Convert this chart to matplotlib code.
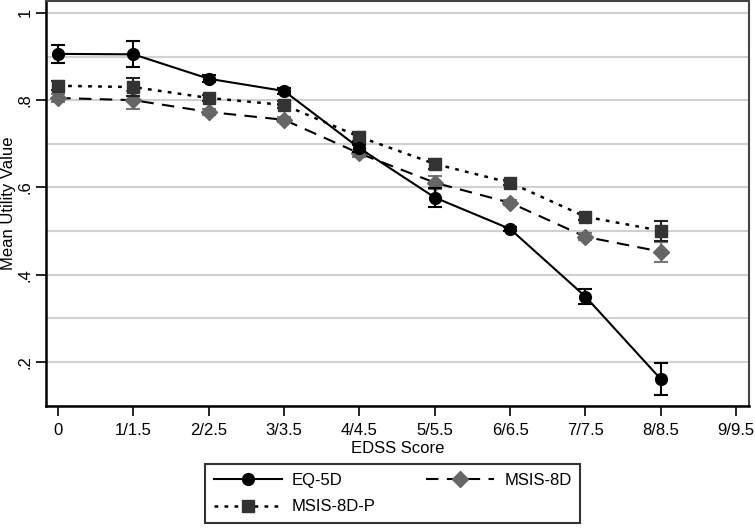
import numpy as np
import matplotlib.pyplot as plt
from matplotlib.ticker import MultipleLocator

plt.rcParams['font.family'] = ['Liberation Sans', 'DejaVu Sans']

# EDSS categories
edss = ['0', '1/1.5', '2/2.5', '3/3.5', '4/4.5', '5/5.5', '6/6.5', '7/7.5', '8/8.5', '9/9.5']

# mean utility values (no value at 9/9.5)
eq5d = [0.906, 0.905, 0.849, 0.821, 0.690, 0.577, 0.505, 0.350, 0.161]
eq5d_err = [0.020, 0.030, 0.008, 0.006, 0.008, 0.022, 0.005, 0.017, 0.036]

msis8d = [0.805, 0.800, 0.773, 0.755, 0.678, 0.611, 0.565, 0.487, 0.453]
msis8d_err = [0.010, 0.020, 0.006, 0.006, 0.008, 0.015, 0.006, 0.008, 0.023]

msis8dp = [0.833, 0.830, 0.805, 0.789, 0.716, 0.654, 0.611, 0.533, 0.501]
msis8dp_err = [0.010, 0.020, 0.006, 0.008, 0.010, 0.012, 0.006, 0.007, 0.023]

x = np.arange(len(eq5d))

fig = plt.figure(figsize=(7.55, 5.31), dpi=100)
ax = fig.add_axes([0.061, 0.235, 0.931, 0.763])

# MSIS-8D
ax.errorbar(x, msis8d, yerr=msis8d_err, fmt='none', ecolor='#777777',
            elinewidth=1.5, capsize=5, capthick=1.5, zorder=3)
ax.plot(x, msis8d, color='black', ls=(0, (6, 4)), lw=1.5, zorder=2)
ax.plot(x, msis8d, ls='none', marker='D', ms=8, color='#666666', zorder=3)

# MSIS-8D-P
ax.errorbar(x, msis8dp, yerr=msis8dp_err, fmt='none', ecolor='#222222',
            elinewidth=1.5, capsize=5, capthick=1.5, zorder=4)
ax.plot(x, msis8dp, color='black', ls=(0, (1.5, 2.5)), lw=1.8, zorder=2)
ax.plot(x, msis8dp, ls='none', marker='s', ms=8, color='#333333', zorder=4)

# EQ-5D
ax.errorbar(x, eq5d, yerr=eq5d_err, fmt='none', ecolor='black',
            elinewidth=1.5, capsize=5, capthick=1.5, zorder=5)
ax.plot(x, eq5d, color='black', ls='-', lw=1.5, marker='o', ms=8.5, zorder=5)

ax.set_xlim(-0.16, 9.17)
ax.set_ylim(0.099, 1.027)
ax.set_xticks(np.arange(len(edss)))
ax.set_xticklabels(edss)
ax.set_yticks([0.2, 0.4, 0.6, 0.8, 1.0])
ax.set_yticklabels(['.2', '.4', '.6', '.8', '1'], rotation=90, va='center', ha='center')
ax.yaxis.set_minor_locator(MultipleLocator(0.1))
ax.grid(axis='y', which='both', color='#d0d0d0', lw=1.5)
ax.set_axisbelow(True)
ax.tick_params(axis='both', which='major', labelsize=12, length=7, width=1.2, color='black')
ax.tick_params(axis='y', which='minor', length=0)
ax.tick_params(axis='y', pad=8)
ax.tick_params(axis='x', pad=5)

for s in ['left', 'bottom']:
    ax.spines[s].set_linewidth(1.8)
    ax.spines[s].set_color('black')
for s in ['top', 'right']:
    ax.spines[s].set_linewidth(1.5)
    ax.spines[s].set_color('#444444')

ax.set_xlabel('EDSS Score', fontsize=12, labelpad=2)
ax.set_ylabel('Mean Utility Value', fontsize=12, va='center')
ax.yaxis.set_label_coords(-0.053, 0.5)

# legend handles
h1, = ax.plot([], [], color='black', ls='-', lw=1.5, marker='o', ms=8.5)
h2, = ax.plot([], [], color='black', ls=(0, (6, 4)), lw=1.5, marker='D', ms=8,
              markerfacecolor='#666666', markeredgecolor='#666666')
h3, = ax.plot([], [], color='black', ls=(0, (1.5, 2.5)), lw=1.8, marker='s', ms=8,
              markerfacecolor='#333333', markeredgecolor='#333333')
leg = fig.legend([h1, h3, h2], ['EQ-5D', 'MSIS-8D-P', 'MSIS-8D'], ncol=2,
                 loc='lower center', bbox_to_anchor=(0.52, 0.0), fontsize=12,
                 frameon=True, fancybox=False, edgecolor='black',
                 handlelength=4.1, handletextpad=0.6, columnspacing=3.0,
                 borderpad=0.5, labelspacing=0.7)
leg.get_frame().set_linewidth(1.5)

fig.savefig('out.png', dpi=100)
